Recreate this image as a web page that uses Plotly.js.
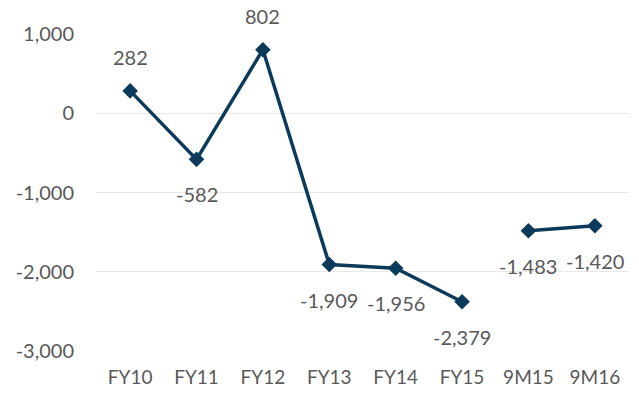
<!DOCTYPE html>
<html>
<head>
<meta charset="utf-8">
<script src="https://cdn.plot.ly/plotly-3.0.1.min.js"></script>
<style>
  html, body { margin: 0; padding: 0; background: #fff; }
  #chart { width: 639px; height: 394px; }
</style>
</head>
<body>
<div id="chart"></div>
<script>
// Periods and reported values
const categories = ['FY10', 'FY11', 'FY12', 'FY13', 'FY14', 'FY15', '9M15', '9M16'];
const values = [282, -582, 802, -1909, -1956, -2379, -1483, -1420];
const yTicks = [1000, 0, -1000, -2000, -3000];
const yTickLabels = ['1,000', '0', '-1,000', '-2,000', '-3,000'];

const lineColor = '#0c3a5b';
const textColor = '#595959';
const fontFamily = 'Lato, "Open Sans", sans-serif';

// Full fiscal years and nine-month periods are drawn as separate segments
const isNineMonth = c => c.startsWith('9M');
const fyIdx = categories.map((c, i) => i).filter(i => !isNineMonth(categories[i]));
const nmIdx = categories.map((c, i) => i).filter(i => isNineMonth(categories[i]));

function segment(idx) {
  return {
    x: idx.map(i => categories[i]),
    y: idx.map(i => values[i]),
    type: 'scatter',
    mode: 'lines+markers',
    line: { color: lineColor, width: 3.5 },
    marker: { symbol: 'diamond', size: 12, color: lineColor },
    hoverinfo: 'x+y',
    showlegend: false
  };
}

const fmt = v => v.toLocaleString('en-US');

// Value labels: above the point for positive values, below for negative
const annotations = categories.map((c, i) => ({
  x: c,
  y: values[i],
  xref: 'x',
  yref: 'y',
  text: fmt(values[i]),
  showarrow: false,
  yshift: values[i] >= 0 ? 34 : -35,
  font: { family: fontFamily, size: 20, color: textColor }
}));

const layout = {
  width: 639,
  height: 394,
  margin: { l: 96, r: 10, t: 34, b: 43 },
  paper_bgcolor: '#ffffff',
  plot_bgcolor: '#ffffff',
  showlegend: false,
  font: { family: fontFamily, size: 19, color: textColor },
  xaxis: {
    type: 'category',
    categoryorder: 'array',
    categoryarray: categories,
    showgrid: false,
    showline: false,
    zeroline: false,
    ticks: '',
    ticklabelstandoff: 13,
    tickfont: { family: fontFamily, size: 19, color: textColor }
  },
  yaxis: {
    range: [-3000, 1000],
    tickvals: yTicks,
    ticktext: yTickLabels,
    showgrid: true,
    gridcolor: '#e8e8e8',
    gridwidth: 1,
    zeroline: false,
    showline: false,
    ticks: '',
    ticklabelstandoff: 21,
    tickfont: { family: fontFamily, size: 20, color: textColor }
  },
  annotations: annotations
};

Plotly.newPlot('chart', [segment(fyIdx), segment(nmIdx)], layout, { displayModeBar: false, staticPlot: true });
</script>
</body>
</html>
